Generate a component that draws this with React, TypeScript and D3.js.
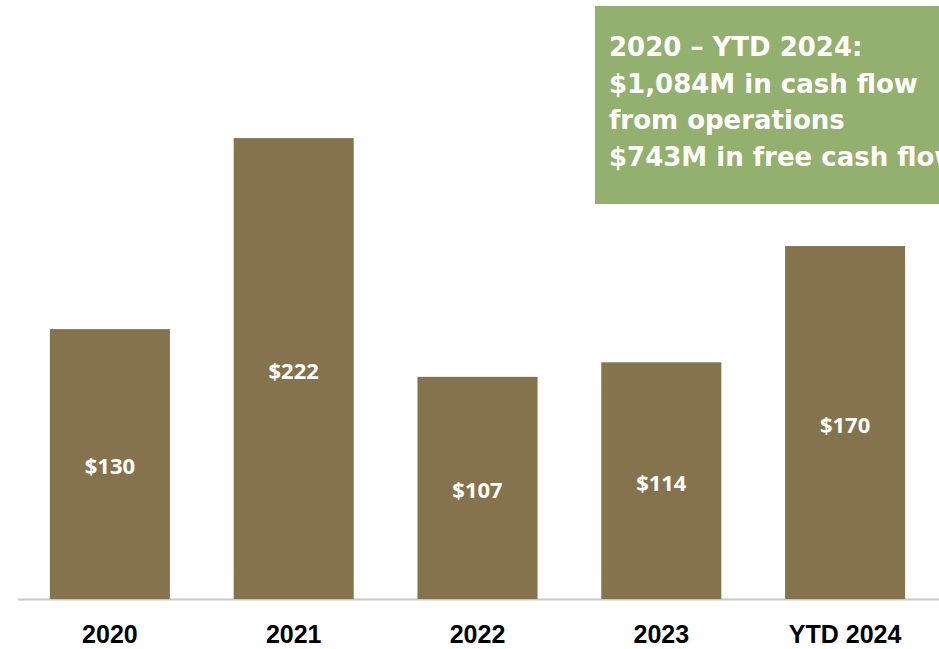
import React from "react";
import * as d3 from "d3";

const categories = ["2020", "2021", "2022", "2023", "YTD 2024"];
const values = [130, 222, 107, 114, 170];
const valueLabels = ["$130", "$222", "$107", "$114", "$170"];
const calloutLines = [
  "2020 – YTD 2024:",
  "$1,084M in cash flow",
  "from operations",
  "$743M in free cash flow",
];

export default function App() {
  const W = 939;
  const H = 649;
  const baseY = 599;
  const x = d3
    .scaleBand<string>()
    .domain(categories)
    .range([18, 937])
    .paddingInner(0.347)
    .paddingOuter(0.1735);
  const y = d3.scaleLinear().domain([0, 222]).range([baseY, 138.1]);

  return (
    <svg
      width={W}
      height={H}
      style={{ position: "absolute", left: 0, top: 0, background: "#fff" }}
    >
      <line x1={18} x2={939} y1={baseY + 0.5} y2={baseY + 0.5} stroke="#c8c8c8" strokeWidth={2} />
      {categories.map((c, i) => {
        const bx = x(c)!;
        const by = y(values[i]);
        const bh = baseY - by;
        return (
          <g key={c}>
            <rect x={bx} y={by} width={x.bandwidth()} height={bh} fill="#85734d" />
            <text
              x={bx + x.bandwidth() / 2}
              y={by + bh / 2 + 1}
              textAnchor="middle"
              dominantBaseline="central"
              fill="#ffffff"
              fontFamily="'Open Sans', sans-serif"
              fontWeight={700}
              fontSize={22}
            >
              {valueLabels[i]}
            </text>
            <text
              x={bx + x.bandwidth() / 2}
              y={643}
              textAnchor="middle"
              fill="#000000"
              fontFamily="'Liberation Sans', Arial, sans-serif"
              fontWeight={700}
              fontSize={25}
            >
              {c}
            </text>
          </g>
        );
      })}
      <rect x={595} y={6} width={350} height={198} fill="#93b06e" />
      {calloutLines.map((t, i) => (
        <text
          key={i}
          x={609}
          y={56 + i * 36.5}
          fill="#ffffff"
          fontFamily="'DejaVu Sans', sans-serif"
          fontWeight={700}
          fontSize={26}
        >
          {t}
        </text>
      ))}
    </svg>
  );
}
